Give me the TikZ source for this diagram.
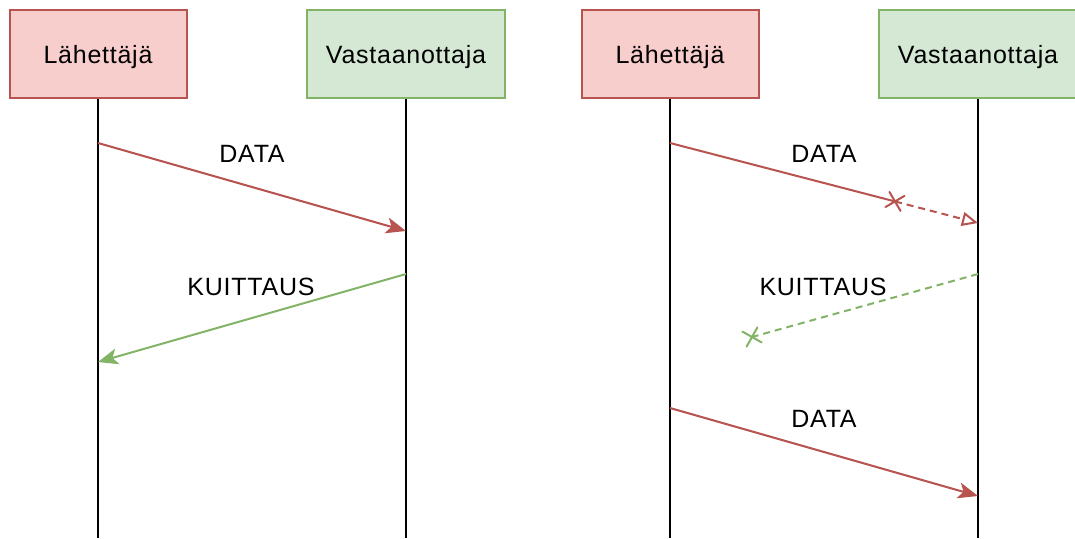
\documentclass[tikz,border=0pt]{standalone}
\usepackage{fontspec}
\setmainfont{Liberation Sans}[LetterSpace=3]
\usetikzlibrary{arrows.meta,calc}

\definecolor{redfill}{HTML}{F8CECC}
\definecolor{redline}{HTML}{B85450}
\definecolor{greenfill}{HTML}{D5E8D4}
\definecolor{greenline}{HTML}{82B366}

\begin{document}
\begin{tikzpicture}[x=1pt,y=-1pt,
  font=\fontsize{25}{29}\selectfont,
  actor/.style={draw, line width=2pt, minimum height=88pt, text depth=0pt, inner sep=0pt},
  sender/.style={actor, fill=redfill, draw=redline, minimum width=177pt},
  receiver/.style={actor, fill=greenfill, draw=greenline, minimum width=198pt},
  lifeline/.style={line width=2.2pt, black},
  msgline/.style={line width=2pt},
  datamsg/.style={msgline, redline, -{Stealth[length=20pt, width=16pt, inset=5pt]}},
  ackmsg/.style={msgline, greenline, -{Stealth[length=20pt, width=16pt, inset=5pt]}},
  lostdash/.style={msgline, dash pattern=on 7pt off 5pt},
  crossarm/.style={msgline, solid, line cap=round},
  label/.style={anchor=base, inner sep=0pt}]

\useasboundingbox (0,0) rectangle (1075,538);
\fill[white] (0,0) rectangle (1075,538);

% ---------- left: successful exchange ----------
\node[sender]   (s1) at (98,54)  {Lähettäjä};
\node[receiver] (r1) at (406,54) {Vastaanottaja};
\coordinate (s1b) at (98,538);
\coordinate (r1b) at (406,538);
\draw[lifeline] (s1.south) -- (s1b);
\draw[lifeline] (r1.south) -- (r1b);

\coordinate (s1d) at (98,143);
\coordinate (r1d) at (406,231);
\coordinate (r1a) at (406,274);
\coordinate (s1a) at (98,362);

\draw[datamsg] (s1d) -- (r1d);
\node[label] (l1) at (252,162) {DATA};
\draw[ackmsg] (r1a) -- (s1a);
\node[label] (l2) at (251,295) {KUITTAUS};

% ---------- right: lost frame, resend ----------
\node[sender]   (s2) at (670,54) {Lähettäjä};
\node[receiver] (r2) at (978,54) {Vastaanottaja};
\coordinate (s2b) at (670,538);
\coordinate (r2b) at (978,538);
\draw[lifeline] (s2.south) -- (s2b);
\draw[lifeline] (r2.south) -- (r2b);

\coordinate (s2d) at (670,143);
\coordinate (r2d) at (978,223);
\coordinate (x1) at ($(s2d)!0.7305!(r2d)$);
\coordinate (r2a) at (978,274);
\coordinate (x2) at (752,337);
\coordinate (s2r) at (670,408);
\coordinate (r2r) at (978,496);

% data frame lost on the way
\draw[msgline, redline] (s2d) -- (x1);
\draw[crossarm, redline] ($(x1)!11pt!45:(s2d)$) -- ($(x1)!11pt!225:(s2d)$);
\draw[crossarm, redline] ($(x1)!11pt!-45:(s2d)$) -- ($(x1)!11pt!135:(s2d)$);
\draw[lostdash, redline, -{Triangle[open, length=16pt, width=14pt]}] (x1) -- (r2d);
\node[label] (l3) at (824,162) {DATA};

% acknowledgement lost on the way
\draw[lostdash, greenline] (r2a) -- (x2);
\draw[crossarm, greenline] ($(x2)!11pt!45:(r2a)$) -- ($(x2)!11pt!225:(r2a)$);
\draw[crossarm, greenline] ($(x2)!11pt!-45:(r2a)$) -- ($(x2)!11pt!135:(r2a)$);
\node[label] (l4) at (823,295) {KUITTAUS};

% resend
\draw[datamsg] (s2r) -- (r2r);
\node[label] (l5) at (824,427) {DATA};

\end{tikzpicture}
\end{document}
